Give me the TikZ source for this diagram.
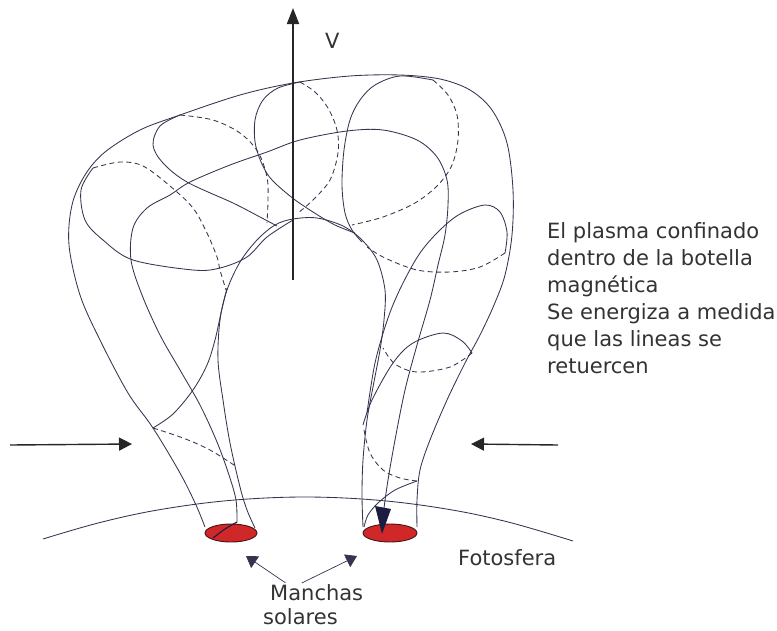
\documentclass[tikz,border=0pt]{standalone}
\usepackage{fontspec}
\setmainfont{DejaVu Sans}
\usetikzlibrary{arrows.meta}
\definecolor{ink}{HTML}{34344F}
\definecolor{navy}{HTML}{1C1C42}
\definecolor{spotred}{HTML}{D02828}
\definecolor{spotrim}{HTML}{4A1414}
\definecolor{txt}{HTML}{333333}
\tikzset{
  fline/.style={ink, line width=0.85pt, line join=round},
  hidden/.style={ink, line width=0.85pt, dash pattern=on 5pt off 3.5pt},
  lbl/.style={text=txt, font=\fontsize{21}{27}\selectfont, inner sep=0pt, anchor=base west},
  push/.style={line width=1.4pt, black!85, -{Triangle[length=13pt,width=13pt]}},
  axis/.style={line width=1.8pt, black!85, -{Triangle[length=16pt,width=12pt]}},
  pointer/.style={line width=0.7pt, ink, -{Triangle[length=11pt,width=14pt]}, shorten <=2pt},
  spotfill/.style={fill=spotred, draw=spotrim, line width=0.9pt},
}
\begin{document}
\begin{tikzpicture}[x=1pt,y=-1pt]
\useasboundingbox (0,0) rectangle (777,630);

% photosphere limb (arc of a large circle)
\draw[fline] plot[smooth, tension=0.6] coordinates {(43,539) (100,522.5) (160,509.6) (230,500.4) (305,497) (380,500.4) (450,509.6) (510,522.5) (573,541)};

% outer silhouette of the flux tube
\draw[fline] plot[smooth, tension=0.55] coordinates {
 (205,527) (196,505) (180,473) (153,428) (128,393) (100,340) (80,295) (69,245) (72,205)
 (85,175) (105,152) (140,130) (180,115) (240,95) (293,83) (350,76) (400,75) (440,79)
 (470,90) (492,110) (507,143) (513,190) (512,235) (505,275) (494,305) (480,335)
 (465,363) (447,400) (430,440) (420,470) (417,500) (417,527)};

% inner silhouette of the arch
\draw[fline] plot[smooth, tension=0.55] coordinates {
 (255,528) (247,510) (240,487) (230,443) (223,400) (218,360) (220,320) (227,290)
 (240,262) (257,240) (275,225) (293,219) (317,218) (343,226) (362,240) (377,260)
 (385,290) (384,320) (380,350) (373,387) (367,420) (363,460) (362,495) (363,527)};

% twisted field line running from one footpoint to the other
\draw[fline] plot[smooth, tension=0.55] coordinates {
 (237,522) (236,500) (229,475) (217,442) (200,405) (180,370) (160,335) (142,295)
 (131,260) (133,228) (147,208) (170,195) (190,182) (230,165) (267,152) (300,140)
 (347,131) (383,130) (417,140) (437,157) (447,180) (448,205) (445,235) (438,265)
 (430,300) (417,345) (405,390) (395,440) (388,480) (384,508)};

% cross-section A (left of the loop top)
\draw[fline] plot[smooth, tension=0.55] coordinates {
 (93,168) (81,190) (85,220) (103,240) (133,260) (193,270) (220,268) (247,257) (267,237) (293,220)};
\draw[hidden] plot[smooth, tension=0.55] coordinates {
 (93,168) (120,162) (143,166) (170,186) (193,208) (207,233) (217,257) (220,270) (226,290)};

% cross-section B
\draw[fline] plot[smooth, tension=0.55] coordinates {
 (180,115) (160,126) (153,145) (163,163) (187,182) (233,203) (260,217) (277,226)};
\draw[hidden] plot[smooth, tension=0.55] coordinates {
 (180,115) (213,120) (240,133) (258,152) (267,177) (268,200) (267,223)};

% cross-section C (loop top)
\draw[fline] plot[smooth, tension=0.55] coordinates {
 (300,82) (278,88) (263,100) (255,120) (256,147) (268,175) (290,196) (313,212) (335,225) (355,233)};
\draw[hidden] plot[smooth, tension=0.55] coordinates {
 (300,82) (315,92) (328,108) (337,130) (338,153) (330,180) (313,200) (298,213)};

% cross-section D (right of the loop top)
\draw[fline] plot[smooth, tension=0.55] coordinates {
 (433,80) (400,76) (375,85) (360,100) (350,120) (344,150) (342,185) (345,213) (352,230) (362,242)};
\draw[hidden] plot[smooth, tension=0.55] coordinates {
 (433,80) (448,95) (457,115) (458,140) (452,165) (438,185) (415,203) (383,217) (352,225)};

% cross-section E (upper right leg)
\draw[fline] plot[smooth, tension=0.55] coordinates {
 (367,413) (375,363) (388,318) (402,285) (420,253) (440,230) (460,214) (485,205) (500,212) (507,232) (505,253)};
\draw[hidden] plot[smooth, tension=0.55] coordinates {
 (505,253) (480,267) (450,272) (417,270) (385,258) (367,247)};

% cross-section F (middle right leg)
\draw[fline] plot[smooth, tension=0.55] coordinates {
 (363,425) (372,400) (393,363) (413,343) (443,333) (462,341) (472,353)};
\draw[hidden] plot[smooth, tension=0.55] coordinates {
 (472,353) (450,367) (417,372) (395,364) (383,348)};

% cross-section G (near the right footpoint)
\draw[hidden] plot[smooth, tension=0.55] coordinates {
 (364,430) (370,453) (383,470) (400,478) (417,481)};
\draw[fline] plot[smooth, tension=0.55] coordinates {
 (417,481) (395,490) (378,503) (368,515) (364,527)};

% cross-section H (left leg)
\draw[fline] plot[smooth, tension=0.55] coordinates {
 (153,428) (173,414) (193,390) (207,365) (215,340) (221,313) (227,288)};
\draw[hidden] plot[smooth, tension=0.55] coordinates {
 (153,428) (183,438) (210,450) (237,467)};

% sunspots
\draw[spotfill] (231,533) ellipse [x radius=26, y radius=9];
\draw[spotfill] (390,533) ellipse [x radius=27, y radius=9];
\draw[navy, line width=1.1pt] plot[smooth] coordinates {(213,538) (225,529) (237,522)};
\fill[navy] (375,506) -- (391,509) -- (382,534) -- cycle;

% rising axis
\coordinate (vbase) at (293,280);
\coordinate (vtip) at (293,8);
\draw[axis] (vbase) -- (vtip);
\node[lbl] (vlab) at (325,48) {V};

% lateral pressure arrows
\coordinate (pl0) at (10,445);
\coordinate (pl1) at (132,444);
\coordinate (pr0) at (558,445);
\coordinate (pr1) at (471,444);
\draw[push] (pl0) -- (pl1);
\draw[push] (pr0) -- (pr1);

% texts
\node[lbl] (p1) at (547,238) {El plasma confinado};
\node[lbl] (p2) at (547,265) {dentro de la botella};
\node[lbl] (p3) at (547,292) {magnética};
\node[lbl] (p4) at (547,319) {Se energiza a medida};
\node[lbl] (p5) at (547,346) {que las lineas se};
\node[lbl] (p6) at (547,373) {retuercen};
\node[lbl] (foto) at (458,565) {Fotosfera};
\node[lbl] (manchas) at (270,600) {Manchas};
\node[lbl] (solares) at (263,624) {solares};

% pointers to the spots
\coordinate (spotL) at (246,556);
\coordinate (spotR) at (357,556);
\draw[pointer] (manchas.north west) ++(17,0) -- (spotL);
\draw[pointer] (manchas.north west) ++(30,0) -- (spotR);
\end{tikzpicture}
\end{document}
